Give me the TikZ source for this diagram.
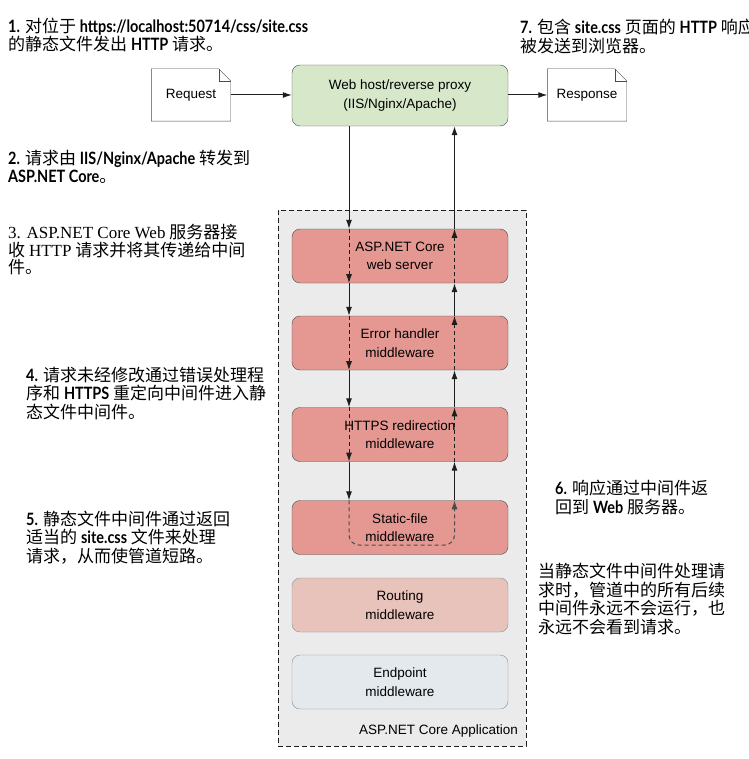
\documentclass[tikz,border=0pt]{standalone}
\usepackage{fontspec}
\setmainfont{Noto Sans CJK SC}
\setsansfont{Liberation Sans}
\newfontfamily\gill[FakeStretch=0.85]{Lato}
\newfontfamily\tms{Liberation Serif}
\newcommand{\lb}[1]{{\gill\bfseries #1}}
\newcommand{\lr}[1]{{\tms #1}}
\usetikzlibrary{positioning,arrows.meta}
\definecolor{Ink}{HTML}{1E1E1E}
\definecolor{Edge}{HTML}{4A4A4A}
\definecolor{Soft}{HTML}{8E8E8E}
\definecolor{Salmon}{HTML}{E59892}
\definecolor{Blush}{HTML}{E8C3BB}
\definecolor{Mist}{HTML}{E4E9EE}
\definecolor{Sage}{HTML}{D6E8C9}
\definecolor{Panel}{HTML}{EBEBEB}
\newcommand{\dogear}[1]{\draw[Edge] (#1.north west) -- ([xshift=-12pt]#1.north east) -- ([yshift=-12pt]#1.north east) -- (#1.south east) -- (#1.south west) -- cycle;
  \draw[Edge] ([xshift=-12pt]#1.north east) |- ([yshift=-12pt]#1.north east);}

\begin{document}
\begin{tikzpicture}[x=1pt,y=-1pt,
  note/.style={anchor=north west,align=left,inner sep=0pt,font=\fontsize{17}{18.5}\selectfont},
  mw/.style={draw=Edge,fill=Salmon,rounded corners=8pt,minimum width=216pt,minimum height=54pt,align=center,font=\sffamily\fontsize{13.5}{18.5}\selectfont},
  doc/.style={minimum width=79pt,minimum height=52pt,font=\sffamily\fontsize{13.5}{15}\selectfont},
  flow/.style={Ink,line width=1pt,-{Latex[length=9pt,width=6pt]}},
  inbox/.style={dash pattern=on 4pt off 3pt}]
\useasboundingbox (0,0) rectangle (748,759);
\node[draw=Ink,dash pattern=on 5pt off 3pt,fill=Panel,minimum width=248pt,minimum height=536pt] (app) at (402,478) {};
\node[anchor=south east,inner sep=0pt,font=\sffamily\fontsize{13.5}{15}\selectfont] (appname) at ([xshift=-8pt,yshift=9pt]app.south east) {ASP.NET Core Application};
\node[doc] (req) at (191,95) {Request};
\dogear{req}
\node[doc] (resp) at (587,95) {Response};
\dogear{resp}
\node[mw,fill=Sage,minimum height=61pt] (host) at (400,95.5) {Web host/reverse proxy\\(IIS/Nginx/Apache)};
\node[mw] (web) at (400,256) {ASP.NET Core\\web server};
\node[mw] (err) at (400,343) {Error handler\\middleware};
\node[mw] (https) at (400,434.5) {HTTPS redirection\\middleware};
\node[mw] (static) at (400,527.5) {Static-file\\middleware};
\node[mw,draw=Soft,fill=Blush] (route) at (400,605) {Routing\\middleware};
\node[mw,draw=Soft,fill=Mist] (endp) at (400,682) {Endpoint\\middleware};
\coordinate (dn) at (349,0);
\coordinate (up) at (454.5,0);
\coordinate (t1) at (349,545);
\coordinate (t2) at (454.5,545);
\draw[flow] (req.east) -- (req.east -| host.west);
\draw[flow] (host.east |- resp.west) -- (resp.west);
\draw[flow] (host.south -| dn) -- (web.north -| dn);
\draw[flow,inbox] (web.north -| dn) -- (web.south -| dn);
\draw[flow] (web.south -| dn) -- (err.north -| dn);
\draw[flow,inbox] (err.north -| dn) -- (err.south -| dn);
\draw[flow] (err.south -| dn) -- (https.north -| dn);
\draw[flow,inbox] (https.north -| dn) -- (https.south -| dn);
\draw[flow] (https.south -| dn) -- (static.north -| dn);
\draw[flow,inbox,Edge,rounded corners=10pt] (static.north -| dn) -- (t1) -- (t2) -- (static.north -| up);
\draw[flow] (static.north -| up) -- (https.south -| up);
\draw[flow,inbox] (https.south -| up) -- (https.north -| up);
\draw[flow] (https.north -| up) -- (err.south -| up);
\draw[flow,inbox] (err.south -| up) -- (err.north -| up);
\draw[flow] (err.north -| up) -- (web.south -| up);
\draw[flow,inbox] (web.south -| up) -- (web.north -| up);
\draw[flow] (web.north -| up) -- (host.south -| up);
\node[note] (s1) at (8,17.5) {\lb{1.} 对位于 \lb{https://localhost:50714/css/site.css}\\的静态文件发出 \lb{HTTP} 请求。};
\node[note] (s7) at (520,19) {\lb{7.} 包含 \lb{site.css} 页面的 \lb{HTTP} 响应\\被发送到浏览器。};
\node[note] (s2) at (8,149.5) {\lb{2.} 请求由 \lb{IIS/Nginx/Apache} 转发到\\\lb{ASP.NET Core}。};
\node[note,font=\fontsize{17}{17.5}\selectfont] (s3) at (8,224.5) {\lr{3. ASP.NET Core Web} 服务器接\\收 \lr{HTTP} 请求并将其传递给中间\\件。};
\node[note] (s4) at (26,366.5) {\lb{4.} 请求未经修改通过错误处理程\\序和 \lb{HTTPS} 重定向中间件进入静\\态文件中间件。};
\node[note] (s5) at (26,510.5) {\lb{5.} 静态文件中间件通过返回\\适当的 \lb{site.css} 文件来处理\\请求，从而使管道短路。};
\node[note] (s6) at (555,480) {\lb{6.} 响应通过中间件返\\回到 \lb{Web} 服务器。};
\node[note] (s8) at (538,563) {当静态文件中间件处理请\\求时，管道中的所有后续\\中间件永远不会运行，也\\永远不会看到请求。};
\end{tikzpicture}
\end{document}
